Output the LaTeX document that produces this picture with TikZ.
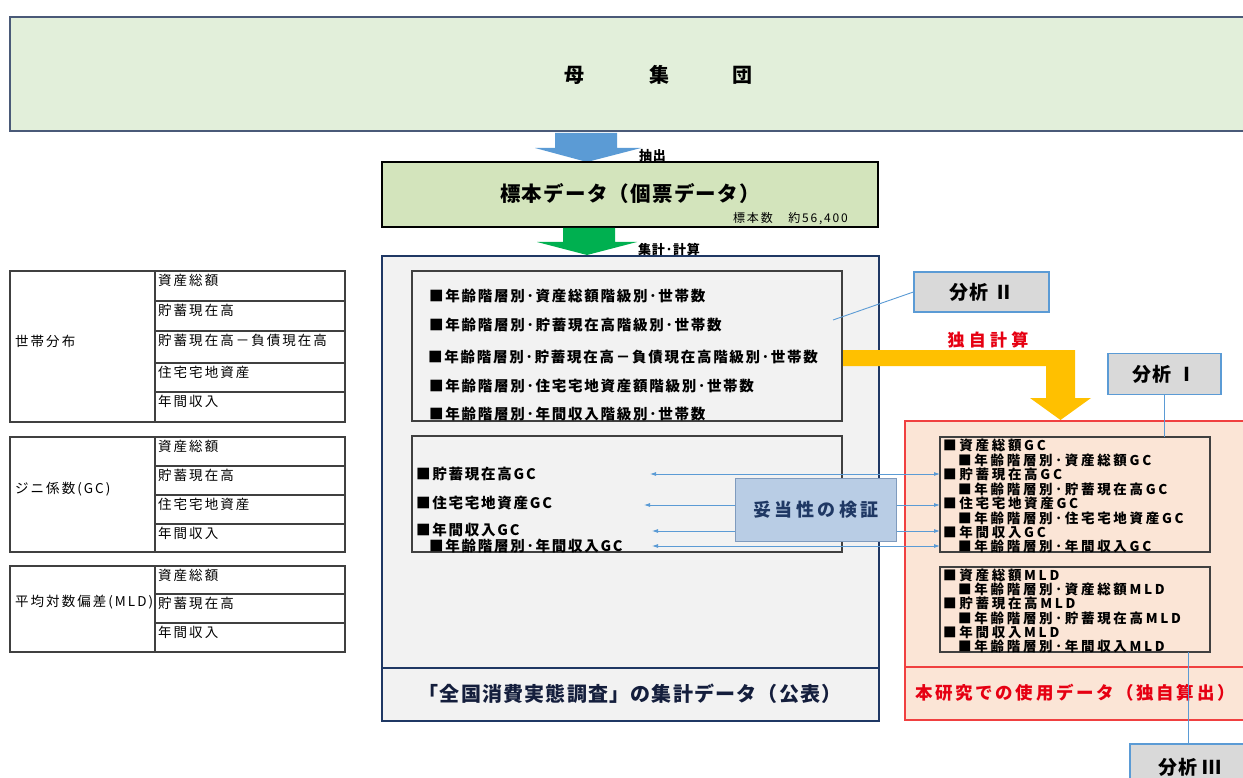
\documentclass[tikz,border=0pt]{standalone}
\usepackage{fontspec}
\setmainfont{Noto Sans CJK JP}
\newfontfamily\jpA{Noto Sans CJK JP}[LetterSpace=12]
\newfontfamily\jpB{Noto Sans CJK JP}[LetterSpace=6]
\newfontfamily\jpC{Noto Sans CJK JP}[LetterSpace=15]
\newfontfamily\jpD{Noto Sans CJK JP}[LetterSpace=20]
\newfontfamily\jpE{Noto Sans CJK JP}[LetterSpace=25]
\usetikzlibrary{arrows.meta,calc}
\definecolor{popfill}{HTML}{E2EFDA}
\definecolor{popborder}{HTML}{4A5A78}
\definecolor{samplefill}{HTML}{D3E4BC}
\definecolor{navy}{HTML}{1F3864}
\definecolor{aggfill}{HTML}{F2F2F2}
\definecolor{boxline}{HTML}{404040}
\definecolor{redline}{HTML}{F04040}
\definecolor{peach}{HTML}{FBE5D6}
\definecolor{anafill}{HTML}{D9D9D9}
\definecolor{lineblue}{HTML}{5B9BD5}
\definecolor{arrowblue}{HTML}{5B9BD5}
\definecolor{arrowgreen}{HTML}{00B050}
\definecolor{arroworange}{HTML}{FFC000}
\definecolor{txtred}{HTML}{E60012}
\definecolor{valfill}{HTML}{B9CDE5}
\definecolor{valline}{HTML}{7F9BBE}
\definecolor{darktxt}{HTML}{141E3C}
\begin{document}
\begin{tikzpicture}[x=1pt,y=-1pt,
  box/.style={anchor=north west,inner sep=0pt,outer sep=0pt},
  cell/.style={box,draw=boxline,line width=1.2pt},
  ctext/.style={anchor=west,inner sep=0pt,font=\jpC\fontsize{13.5}{14}\selectfont},
  ltext/.style={anchor=west,inner sep=0pt,font=\jpA\bfseries\fontsize{14.5}{15}\selectfont},
  rtext/.style={anchor=west,inner sep=0pt,font=\jpD\bfseries\fontsize{13.5}{14}\selectfont},
  anabox/.style={draw=lineblue,fill=anafill,line width=1.2pt,inner sep=0pt,font=\jpB\bfseries\fontsize{19}{21}\selectfont},
  conn/.style={draw=lineblue,line width=0.9pt},
  dbl/.style={draw=lineblue,line width=0.8pt,{Latex[length=6pt,width=4pt]}-{Latex[length=6pt,width=4pt]}}
]
\useasboundingbox (0,0) rectangle (1243,778);
\fill[white] (0,0) rectangle (1243,778);

% population
\node[box,draw=popborder,fill=popfill,line width=1.6pt,minimum width=1240,minimum height=114] (pop) at (10,17) {};
\node[font=\bfseries\fontsize{20}{22}\selectfont] (popT) at (658,75) {母\hspace{65pt}集\hspace{63pt}団};

% blue arrow
\fill[arrowblue] (555,133) -- (617,133) -- (617,148) -- (641,148) -- (587,162) -- (535,148) -- (555,148) -- cycle;
\node[anchor=west,inner sep=0pt,font=\jpB\bfseries\fontsize{13}{14}\selectfont] (ext) at (639,156) {抽出};

% sample box
\node[box,draw=black,fill=samplefill,line width=1.6pt,minimum width=496,minimum height=65] (sample) at (382,162) {};
\node[font=\jpB\bfseries\fontsize{20.5}{22}\selectfont] (sampleT) at (630,194) {標本データ（個票データ）};
\node[anchor=east,inner sep=0pt,font=\jpC\fontsize{12}{13}\selectfont] (sampleN) at (848,219) {標本数　約56,400};

% green arrow
\fill[arrowgreen] (563,228) -- (615,228) -- (615,242) -- (637,242) -- (587,255) -- (537,242) -- (563,242) -- cycle;
\node[anchor=west,inner sep=0pt,font=\jpB\bfseries\fontsize{13}{14}\selectfont] (calc) at (638,249) {集計･計算};

% left tables
\node[cell,minimum width=145,minimum height=151] (t1L) at (10,271) {};
\node[ctext] (t1Lt) at (15,341) {世帯分布};
\node[cell,minimum width=190,minimum height=30] (t1a) at (155,271) {};
\node[cell,minimum width=190,minimum height=30] (t1b) at (155,301) {};
\node[cell,minimum width=190,minimum height=32] (t1c) at (155,331) {};
\node[cell,minimum width=190,minimum height=29] (t1d) at (155,363) {};
\node[cell,minimum width=190,minimum height=30] (t1e) at (155,392) {};
\node[ctext] at ($(t1a.north west)+(3,9)$) {資産総額};
\node[ctext] at ($(t1b.north west)+(3,9)$) {貯蓄現在高};
\node[ctext] at ($(t1c.north west)+(3,9)$) {貯蓄現在高－負債現在高};
\node[ctext] at ($(t1d.north west)+(3,9)$) {住宅宅地資産};
\node[ctext] at ($(t1e.north west)+(3,9)$) {年間収入};

\node[cell,minimum width=145,minimum height=115] (t2L) at (10,437) {};
\node[ctext] (t2Lt) at (15,489) {ジニ係数(GC)};
\node[cell,minimum width=190,minimum height=29] (t2a) at (155,437) {};
\node[cell,minimum width=190,minimum height=29] (t2b) at (155,466) {};
\node[cell,minimum width=190,minimum height=29] (t2c) at (155,495) {};
\node[cell,minimum width=190,minimum height=28] (t2d) at (155,524) {};
\node[ctext] at ($(t2a.north west)+(3,9)$) {資産総額};
\node[ctext] at ($(t2b.north west)+(3,9)$) {貯蓄現在高};
\node[ctext] at ($(t2c.north west)+(3,9)$) {住宅宅地資産};
\node[ctext] at ($(t2d.north west)+(3,9)$) {年間収入};

\node[cell,minimum width=145,minimum height=86] (t3L) at (10,566) {};
\node[ctext] (t3Lt) at (15,602) {平均対数偏差(MLD)};
\node[cell,minimum width=190,minimum height=28] (t3a) at (155,566) {};
\node[cell,minimum width=190,minimum height=29] (t3b) at (155,594) {};
\node[cell,minimum width=190,minimum height=29] (t3c) at (155,623) {};
\node[ctext] at ($(t3a.north west)+(3,9)$) {資産総額};
\node[ctext] at ($(t3b.north west)+(3,9)$) {貯蓄現在高};
\node[ctext] at ($(t3c.north west)+(3,9)$) {年間収入};

% aggregate (middle) box
\node[box,draw=navy,fill=aggfill,line width=1.8pt,minimum width=497,minimum height=465] (agg) at (382,256) {};
\draw[navy,line width=1.8pt] ($(agg.north west)+(0,412)$) -- ($(agg.north east)+(0,412)$);
\node[font=\jpB\bfseries\fontsize{20}{22}\selectfont,text=darktxt] (aggT) at (630,694) {「全国消費実態調査」の集計データ（公表）};

\node[box,draw=boxline,fill=aggfill,line width=1.2pt,minimum width=430,minimum height=150] (hh) at (412,271) {};
\node[ltext] (h1) at (429,296) {■年齢階層別･資産総額階級別･世帯数};
\node[ltext] (h2) at (429,325) {■年齢階層別･貯蓄現在高階級別･世帯数};
\node[ltext] (h3) at (428,357) {■年齢階層別･貯蓄現在高－負債現在高階級別･世帯数};
\node[ltext] (h4) at (429,386) {■年齢階層別･住宅宅地資産額階級別･世帯数};
\node[ltext] (h5) at (429,414) {■年齢階層別･年間収入階級別･世帯数};

\node[box,draw=boxline,fill=aggfill,line width=1.2pt,minimum width=430,minimum height=116] (gcM) at (412,436) {};
\node[ltext] (m1) at (416,474) {■貯蓄現在高GC};
\node[ltext] (m2) at (416,503) {■住宅宅地資産GC};
\node[ltext] (m3) at (416,530) {■年間収入GC};
\node[ltext] (m4) at (429,546) {■年齢階層別･年間収入GC};

% own data (right) box
\node[box,draw=redline,fill=peach,line width=1.5pt,minimum width=345,minimum height=299] (own) at (905,421) {};
\draw[redline,line width=1.5pt] ($(own.north west)+(0,246)$) -- ($(own.north east)+(0,246)$);
\node[font=\jpC\bfseries\fontsize{17.5}{19}\selectfont,text=txtred] (ownT) at (1075,693) {本研究での使用データ（独自算出）};

\node[box,draw=boxline,fill=peach,line width=1.2pt,minimum width=270,minimum height=115] (gcR) at (940,437) {};
\node[rtext] (r1) at (943,445) {■資産総額GC};
\node[rtext] (r2) at (958,460) {■年齢階層別･資産総額GC};
\node[rtext] (r3) at (943,474) {■貯蓄現在高GC};
\node[rtext] (r4) at (958,489) {■年齢階層別･貯蓄現在高GC};
\node[rtext] (r5) at (943,503) {■住宅宅地資産GC};
\node[rtext] (r6) at (958,518) {■年齢階層別･住宅宅地資産GC};
\node[rtext] (r7) at (943,532) {■年間収入GC};
\node[rtext] (r8) at (958,546) {■年齢階層別･年間収入GC};

\node[box,draw=boxline,fill=peach,line width=1.2pt,minimum width=270,minimum height=85] (mldR) at (940,567) {};
\node[rtext] (s1) at (943,575) {■資産総額MLD};
\node[rtext] (s2) at (958,589) {■年齢階層別･資産総額MLD};
\node[rtext] (s3) at (943,603) {■貯蓄現在高MLD};
\node[rtext] (s4) at (958,618) {■年齢階層別･貯蓄現在高MLD};
\node[rtext] (s5) at (943,632) {■年間収入MLD};
\node[rtext] (s6) at (958,646) {■年齢階層別･年間収入MLD};

% validation arrows
\coordinate (L1) at (650,474);
\coordinate (L2) at (644,505);
\coordinate (L3) at (652,531);
\coordinate (L4) at (652,546);
\draw[dbl,shorten >=3pt] (L1) -- (L1 -| r3.west);
\draw[dbl,shorten >=3pt] (L2) -- (L2 -| r5.west);
\draw[dbl,shorten >=3pt] (L3) -- (L3 -| r7.west);
\draw[dbl,shorten >=3pt] (L4) -- (L4 -| r7.west);
\node[draw=valline,fill=valfill,line width=1pt,minimum width=161,minimum height=63,inner sep=0pt,font=\jpD\bfseries\fontsize{18}{20}\selectfont,text=navy] (val) at (816,509.5) {妥当性の検証};

% orange arrow (独自計算)
\fill[arroworange] (843,350) -- (1075,350) -- (1075,398) -- (1091,398) -- (1060.5,420) -- (1030,398) -- (1046,398) -- (1046,366) -- (843,366) -- cycle;
\node[font=\jpE\bfseries\fontsize{17}{18}\selectfont,text=txtred] (owncalc) at (988,340) {独自計算};

% analysis labels
\node[anabox,minimum width=135,minimum height=40] (ana2) at (981.5,292) {分析 Ⅱ};
\coordinate (p2) at (833,320);
\draw[conn] (ana2.west) -- (p2);
\node[anabox,minimum width=113,minimum height=41] (ana1) at (1164.5,374) {分析 Ⅰ};
\draw[conn] (ana1.south) -- (ana1.south |- gcR.north);
\node[anabox,minimum width=120,minimum height=46] (ana3) at (1190,767) {分析 Ⅲ};
\coordinate (p3) at (1188,652);
\draw[conn] (p3) -- (p3 |- ana3.north);
\end{tikzpicture}
\end{document}
